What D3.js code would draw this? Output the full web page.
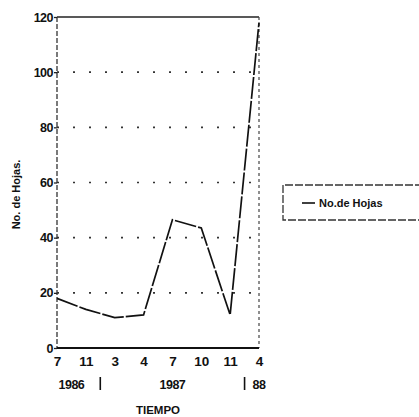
<!DOCTYPE html>
<html>
<head>
<meta charset="utf-8">
<script src="https://cdn.jsdelivr.net/npm/d3@7"></script>
<style>
  body { margin: 0; background: #fff; overflow: hidden; }
  text { font-family: 'Liberation Sans', Arial, sans-serif; font-weight: bold; fill: #111; }
</style>
</head>
<body>
<script>
const months = ['7', '11', '3', '4', '7', '10', '11', '4']
const hojas = [18, 14, 11, 12, 46.5, 43.5, 12, 118]
const yTicks = [0, 20, 40, 60, 80, 100, 120]
const gridTicks = [20, 40, 60, 80, 100]
const years = [
  { label: '1986', at: 0.5 },
  { label: '1987', at: 4 },
  { label: '88', at: 7 }
]
const yearMarks = [1.5, 6.5]
const seriesName = 'No.de Hojas'

const WIDTH = 419
const HEIGHT = 417
const plotLeft = 57, plotRight = 259, plotTop = 17, plotBottom = 348

const svg = d3.select(document.body).append('svg')
  .attr('width', WIDTH)
  .attr('height', HEIGHT)
  .style('display', 'block')

const x = d3.scalePoint()
  .domain(d3.range(months.length))
  .range([plotLeft, plotRight])

const y = d3.scaleLinear()
  .domain([0, 120])
  .range([plotBottom, plotTop])

// dotted grid
svg.append('g').selectAll('line')
  .data(gridTicks)
  .enter()
  .append('line')
  .attr('x1', plotLeft).attr('x2', plotRight)
  .attr('y1', d => y(d)).attr('y2', d => y(d))
  .attr('stroke', '#333')
  .attr('stroke-width', 1.6)
  .attr('stroke-dasharray', '2,14')

// frame
svg.append('line')
  .attr('x1', plotLeft).attr('x2', plotRight).attr('y1', plotTop).attr('y2', plotTop)
  .attr('stroke', '#222').attr('stroke-width', 1.6)
svg.append('line')
  .attr('x1', plotRight).attr('x2', plotRight).attr('y1', plotTop).attr('y2', plotBottom)
  .attr('stroke', '#444').attr('stroke-width', 1.2).attr('stroke-dasharray', '3,3')
svg.append('line')
  .attr('x1', plotLeft).attr('x2', plotLeft).attr('y1', plotTop).attr('y2', plotBottom)
  .attr('stroke', '#333').attr('stroke-width', 1.3).attr('stroke-dasharray', '5,2')
svg.append('line')
  .attr('x1', plotLeft).attr('x2', plotRight).attr('y1', plotBottom).attr('y2', plotBottom)
  .attr('stroke', '#111').attr('stroke-width', 2)

// y axis labels
const yAxis = d3.axisLeft(y).tickValues(yTicks).tickSize(3).tickFormat(d3.format('d'))
const gy = svg.append('g').attr('transform', `translate(${plotLeft},0)`).call(yAxis)
gy.select('.domain').remove()
gy.selectAll('.tick line').attr('stroke', '#222').attr('stroke-width', 1.3)
gy.selectAll('text').style('font-size', '12.5px').attr('dx', '2').style('letter-spacing', '-0.5px')

// x axis labels
const xAxis = d3.axisBottom(x).tickFormat(i => months[i]).tickSize(0).tickPadding(8)
const gx = svg.append('g').attr('transform', `translate(0,${plotBottom})`).call(xAxis)
gx.select('.domain').remove()
gx.selectAll('text').style('font-size', '13.5px')

const step = x.step()
svg.append('g').selectAll('text')
  .data(years)
  .enter()
  .append('text')
  .attr('x', d => x(0) + d.at * step)
  .attr('y', 389)
  .attr('text-anchor', 'middle')
  .style('font-size', '12.5px')
  .style('letter-spacing', '-0.5px')
  .text(d => d.label)
svg.append('g').selectAll('line')
  .data(yearMarks)
  .enter()
  .append('line')
  .attr('x1', d => x(0) + d * step).attr('x2', d => x(0) + d * step)
  .attr('y1', 377).attr('y2', 390)
  .attr('stroke', '#111').attr('stroke-width', 1.6)

svg.append('text')
  .attr('x', 158).attr('y', 414)
  .attr('text-anchor', 'middle')
  .style('font-size', '11.5px')
  .text('TIEMPO')

svg.append('text')
  .attr('transform', `translate(20,${(plotTop + plotBottom) / 2 + 12}) rotate(-90)`)
  .attr('text-anchor', 'middle')
  .style('font-size', '11px')
  .text('No. de Hojas.')

// series
const line = d3.line()
  .x((d, i) => x(i))
  .y(d => y(d))
svg.append('path')
  .datum(hojas)
  .attr('d', line)
  .attr('fill', 'none')
  .attr('stroke', '#111')
  .attr('stroke-width', 1.7)
  .attr('stroke-dasharray', '22,2')

// legend (box runs off the right edge, so no right side)
const lg = svg.append('g').attr('transform', 'translate(283,185)')
lg.append('path')
  .attr('d', 'M150,0 H0 V35 H150')
  .attr('fill', 'none').attr('stroke', '#333').attr('stroke-width', 1.3)
  .attr('stroke-dasharray', '8,2')
lg.append('line')
  .attr('x1', 19).attr('x2', 32).attr('y1', 18).attr('y2', 18)
  .attr('stroke', '#111').attr('stroke-width', 1.6)
lg.append('text')
  .attr('x', 36).attr('y', 22)
  .style('font-size', '11px')
  .text(seriesName)
</script>
</body>
</html>
